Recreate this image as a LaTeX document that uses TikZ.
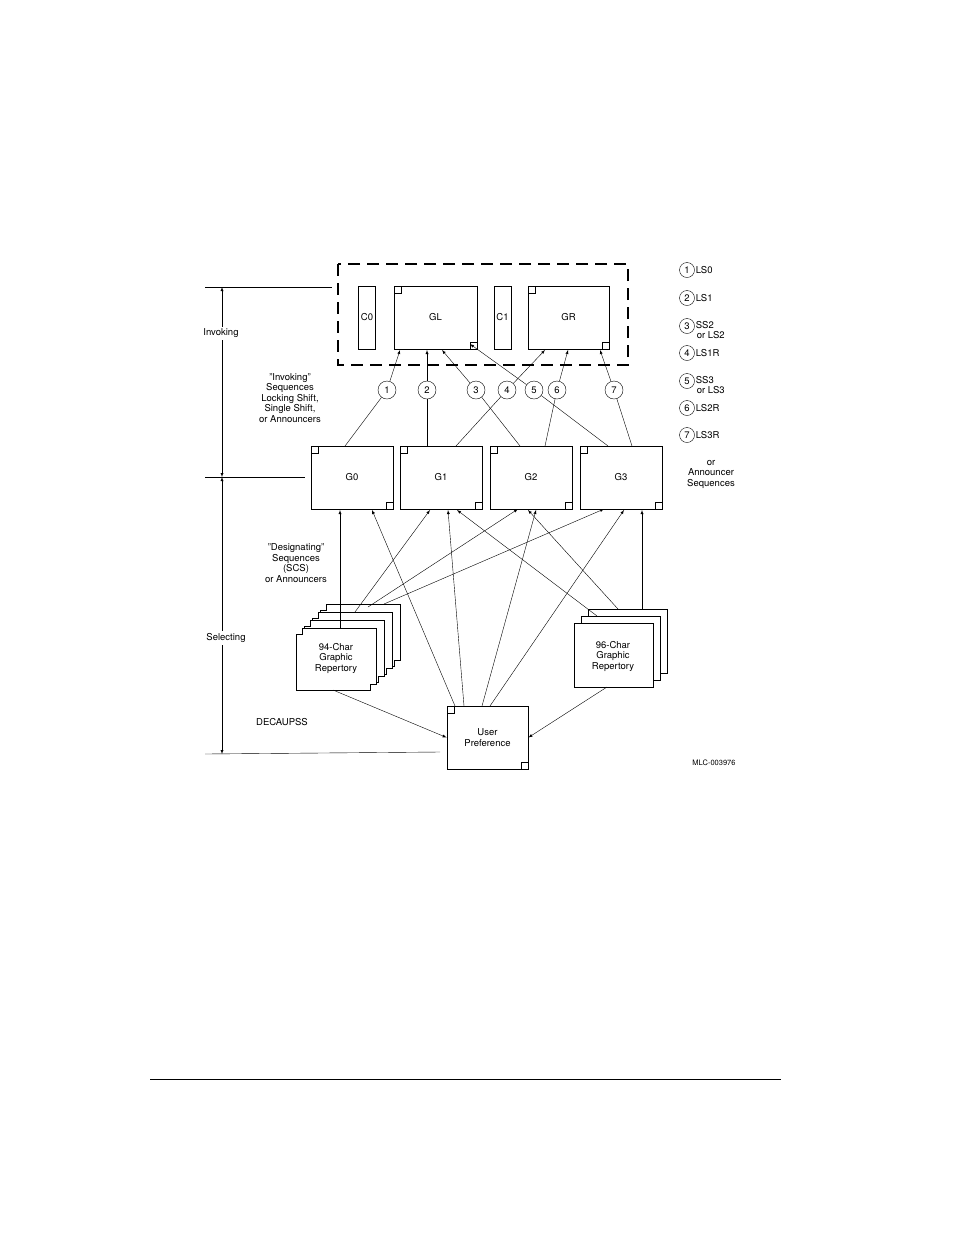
\documentclass[tikz,border=0pt]{standalone}
\usepackage{fontspec}
\setmainfont{TeX Gyre Heros}
\usetikzlibrary{calc,arrows}
\tikzset{
  gbox/.style={draw, thick, minimum width=82pt, minimum height=63pt, fill=white,
    path picture={\draw ([shift={(0,0)}]path picture bounding box.north west) rectangle ++(7pt,-7pt);
                  \draw (path picture bounding box.south east) rectangle ++(-7pt,7pt);}},
  cbox/.style={draw, thick, minimum width=17pt, minimum height=63pt},
  num/.style={draw, circle, inner sep=0pt, minimum size=18pt, font=\fontsize{9.5}{10}\selectfont},
  lbl/.style={font=\fontsize{9.5}{10.5}\selectfont, align=center, inner sep=0pt},
  conn/.style={-latex, thin},
}
\newcommand{\notchbox}[2]{% top-left corner
  \draw[thick, fill=white] (#1+6,#2) -- (#1+80,#2) -- (#1+80,#2+56) -- (#1+74,#2+56) -- (#1+74,#2+62)
    -- (#1,#2+62) -- (#1,#2+6) -- (#1+6,#2+6) -- cycle;}
\begin{document}
\begin{tikzpicture}[x=1pt,y=-1pt]
    \useasboundingbox (0,0) rectangle (954,1235);
    % invoked sets
    \draw[very thick, dash pattern=on 12pt off 7pt] (338,264) rectangle (628,365);
    \node[cbox, lbl] (c0) at (367,317.5) {C0};
    \node[gbox, lbl, minimum width=83pt] (gl) at (435.5,317.5) {GL};
    \node[cbox, lbl] (c1) at (502.5,317.5) {C1};
    \node[gbox, lbl, minimum width=81pt] (gr) at (568.5,317.5) {GR};
    % designated sets
    \node[gbox, lbl] (g0) at (352,477.5) {G0};
    \node[gbox, lbl] (g1) at (441,477.5) {G1};
    \node[gbox, lbl] (g2) at (531,477.5) {G2};
    \node[gbox, lbl] (g3) at (621,477.5) {G3};
    % invoking circles
    \foreach \i/\x in {1/387,2/427,3/476,4/507,5/534,6/557,7/614}
        \node[num] (n\i) at (\x,390) {\i};
    \draw (345,446) -- (n1); \draw[conn] (n1) -- (400,350);
    \draw (427,446) -- (n2); \draw[conn] (n2) -- (427,350);
    \draw (520,446) -- (n3); \draw[conn] (n3) -- (442,350);
    \draw (456,446) -- (n4); \draw[conn] (n4) -- (545,350);
    \draw (608,446) -- (n5); \draw[conn] (n5) -- (470,344);
    \draw (545,446) -- (n6); \draw[conn] (n6) -- (568,350);
    \draw (632,446) -- (n7); \draw[conn] (n7) -- (600,350);
    % legend
    \foreach \i/\y in {1/270,2/298,3/326,4/353,5/381,6/408,7/435}
        \node[num, minimum size=15pt] (k\i) at (687,\y) {\i};
    \node[lbl, anchor=west] at ([xshift=1pt]k1.east) {LS0};
    \node[lbl, anchor=west] at ([xshift=1pt]k2.east) {LS1};
    \node[lbl, anchor=north west, align=left] at ([xshift=1pt,yshift=5pt]k3.east) {SS2\\\hspace*{1pt}or LS2};
    \node[lbl, anchor=west] at ([xshift=1pt]k4.east) {LS1R};
    \node[lbl, anchor=north west, align=left] at ([xshift=1pt,yshift=5pt]k5.east) {SS3\\\hspace*{1pt}or LS3};
    \node[lbl, anchor=west] at ([xshift=1pt]k6.east) {LS2R};
    \node[lbl, anchor=west] at ([xshift=1pt]k7.east) {LS3R};
    \node[lbl] (ann) at (711,474) {or\\Announcer\\Sequences};
    % dimension line
    \draw (205,287) -- (332,287);
    \draw (205,477) -- (305,477);
    \draw (205,754) -- (440,752);
    \draw[-latex] (222,333) -- (222,287);
    \draw[-latex] (222,333) -- (222,477);
    \draw[-latex] (222,638) -- (222,477);
    \draw[-latex] (222,638) -- (222,754);
    \node[lbl, fill=white, inner sep=2pt] (inv) at (221,333) {Invoking};
    \node[lbl, fill=white, inner sep=2pt] (sel) at (226,638) {Selecting};
    \node[lbl] (invseq) at (290,398) {"Invoking"\\Sequences\\Locking Shift,\\Single Shift,\\or Announcers};
    \node[lbl] (desseq) at (296,563) {"Designating"\\Sequences\\(SCS)\\or Announcers};
    \node[lbl] (dec) at (282,722) {DECAUPSS};
    % repertories
    \foreach \k in {3,2,1,0} \notchbox{296+8*\k}{628-8*\k};
    \node[lbl] (r94) at (336,658) {94-Char\\Graphic\\Repertory};
    \foreach \k in {2,1,0} \draw[thick, fill=white] (574+7*\k,623-7*\k) rectangle ++(79,64);
    \node[lbl] (r96) at (613,656) {96-Char\\Graphic\\Repertory};
    \node[gbox, lbl, minimum width=81pt] (up) at (487.5,737.5) {User\\Preference};
    \node[font=\fontsize{7.5}{8}\selectfont] (mlc) at (714,763) {MLC-003976};
    % designating connectors
    \draw[conn] (340,628) -- (340,510);
    \draw[conn] (355,612) -- (430,510);
    \draw[conn] (368,607) -- (518,509);
    \draw[conn] (384,604) -- (604,509);
    \draw[conn] (642,609) -- (642,510);
    \draw[conn] (618,609) -- (528,510);
    \draw[conn] (597,616) -- (457,510);
    \draw[conn] (455,706) -- (372,510);
    \draw[conn] (464,706) -- (448,510);
    \draw[conn] (482,706) -- (536,510);
    \draw[conn] (490,706) -- (624,510);
    \draw[conn] (333,690) -- (up.west);
    \draw[conn] (607,687) -- (up.east);
    % page rule
    \draw (150,1079) -- (781,1079);
\end{tikzpicture}
\end{document}
